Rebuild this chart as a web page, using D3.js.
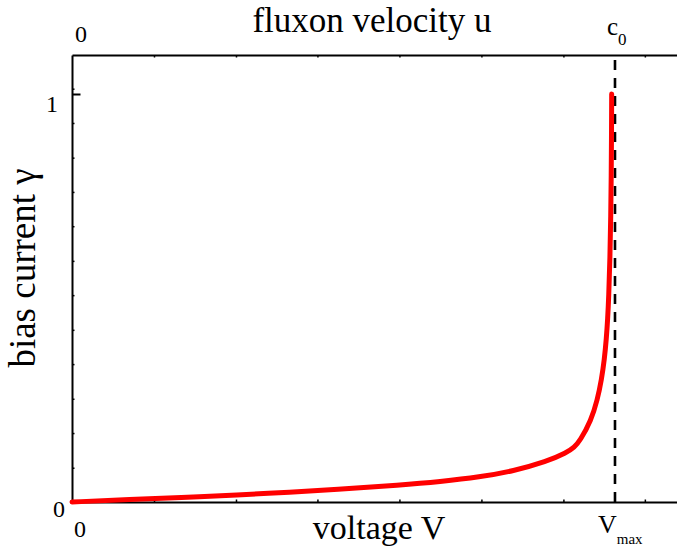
<!DOCTYPE html>
<html>
<head>
<meta charset="utf-8">
<script src="https://cdn.jsdelivr.net/npm/d3@7"></script>
<style>
  html, body { margin: 0; padding: 0; background: #fff; }
  svg { display: block; }
  text { font-family: "Liberation Serif", "Times New Roman", serif; fill: #000; }
</style>
</head>
<body>
<svg id="chart" width="677" height="550"></svg>
<script>
// Fluxon branch of the I-V curve: voltage in units of Vmax, bias current γ
const voltage = [0, 0.10, 0.236, 0.36, 0.494, 0.604, 0.678, 0.751, 0.813, 0.874,
                 0.911, 0.925, 0.9355, 0.9560, 0.9675, 0.9752, 0.9805, 0.9841,
                 0.9866, 0.9884, 0.9908, 0.9922, 0.9931, 0.9936, 0.9939];
const current = [0, 0.0055, 0.013, 0.021, 0.031, 0.0415, 0.050, 0.061, 0.076, 0.099,
                 0.121, 0.134, 0.150, 0.200, 0.250, 0.300, 0.350, 0.400,
                 0.450, 0.500, 0.600, 0.700, 0.800, 0.900, 1.0];

// Limiting voltage (fluxon reaches c0)
const vMax = 1;

// Axis extents and minor tick positions
const xEnd = 1.1142;
const yEnd = 1.0956;
const xMinorTicks = [0.151, 0.302, 0.452, 0.603, 0.754, 0.905, 1.055];
const yMinorTicks = [0.084, 0.169, 0.253, 0.338, 0.422, 0.507, 0.591, 0.676, 0.760, 0.844, 0.929, 1.013];
const yMajorTicks = [1];

const svg = d3.select("#chart");

const x = d3.scaleLinear().domain([0, xEnd]).range([72, 677]);
const y = d3.scaleLinear().domain([0, yEnd]).range([502, 55]);

function styleAxis(g) {
  g.select(".domain").attr("stroke", "#000").attr("stroke-width", 2);
  g.selectAll(".tick line").attr("stroke", "#000").attr("stroke-width", 1.5);
  g.selectAll(".tick text").remove();
}

// Bottom (voltage) axis
svg.append("g")
  .attr("transform", `translate(0,${y(0)})`)
  .call(d3.axisBottom(x).tickValues(xMinorTicks).tickSize(-2.5).tickSizeOuter(0).tickFormat(""))
  .call(styleAxis);

// Top (velocity) axis
svg.append("g")
  .attr("transform", `translate(0,${y(yEnd)})`)
  .call(d3.axisTop(x).tickValues(xMinorTicks).tickSize(-2.5).tickSizeOuter(0).tickFormat(""))
  .call(styleAxis);

// Left (current) axis with minor ticks
svg.append("g")
  .attr("transform", `translate(${x(0)},0)`)
  .call(d3.axisLeft(y).tickValues(yMinorTicks).tickSize(-2.5).tickSizeOuter(0).tickFormat(""))
  .call(styleAxis);

// Major tick at γ = 1
svg.append("g")
  .attr("transform", `translate(${x(0)},0)`)
  .call(d3.axisLeft(y).tickValues(yMajorTicks).tickSize(-8.5).tickSizeOuter(0).tickFormat(""))
  .call(g => g.select(".domain").remove())
  .call(g => g.selectAll(".tick line").attr("stroke", "#000").attr("stroke-width", 2));

// Dashed asymptote at Vmax
svg.append("line")
  .attr("x1", x(vMax)).attr("x2", x(vMax))
  .attr("y1", y(0)).attr("y2", y(yEnd))
  .attr("stroke", "#000")
  .attr("stroke-width", 2.6)
  .attr("stroke-dasharray", "10,8");

// I-V curve
const points = voltage.map((v, i) => [v, current[i]]);
svg.append("path")
  .datum(points)
  .attr("fill", "none")
  .attr("stroke", "#ff0000")
  .attr("stroke-width", 5)
  .attr("stroke-linecap", "round")
  .attr("stroke-linejoin", "round")
  .attr("d", d3.line().x(d => x(d[0])).y(d => y(d[1])).curve(d3.curveBasis));

// Tick labels
svg.append("text").attr("x", x(0) + 9).attr("y", 42)
  .attr("text-anchor", "middle").attr("font-size", 24).text("0");
svg.append("text").attr("x", x(0) + 8).attr("y", 537)
  .attr("text-anchor", "middle").attr("font-size", 24).text("0");
svg.append("text").attr("x", x(0) - 7).attr("y", y(0) + 15)
  .attr("text-anchor", "end").attr("font-size", 24).text("0");
svg.append("text").attr("x", x(0) - 14).attr("y", y(1) + 18)
  .attr("text-anchor", "end").attr("font-size", 24).text("1");

// c0 label above the asymptote
const c0 = svg.append("text").attr("x", x(vMax) - 8).attr("y", 35).attr("font-size", 25);
c0.append("tspan").text("c");
c0.append("tspan").attr("font-size", 17).attr("dy", 10).text("0");

// Vmax label below the asymptote
const vm = svg.append("text").attr("x", x(vMax) - 17).attr("y", 533).attr("font-size", 26);
vm.append("tspan").text("V");
vm.append("tspan").attr("font-size", 15).attr("dy", 11).text("max");

// Axis titles
svg.append("text").attr("x", 372).attr("y", 31.5)
  .attr("text-anchor", "middle").attr("font-size", 35).text("fluxon velocity u");
svg.append("text").attr("x", 379).attr("y", 539)
  .attr("text-anchor", "middle").attr("font-size", 34).text("voltage V");
svg.append("text")
  .attr("transform", "translate(35,268) rotate(-90)")
  .attr("text-anchor", "middle").attr("font-size", 37).text("bias current γ");
</script>
</body>
</html>
